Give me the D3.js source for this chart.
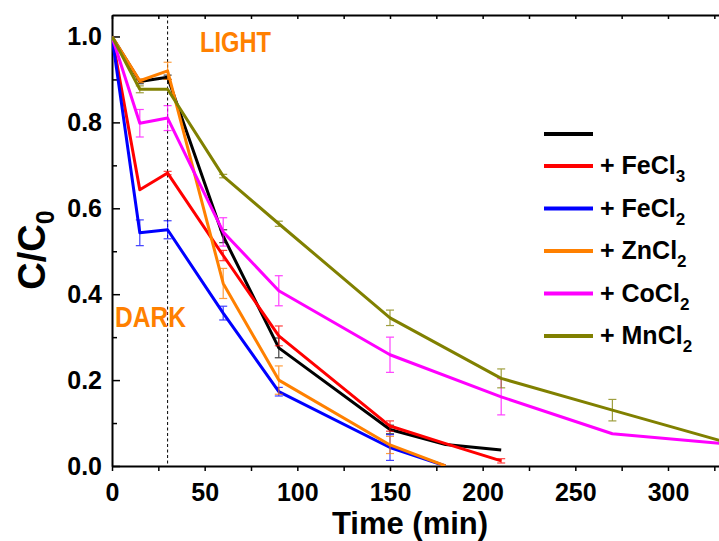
<!DOCTYPE html>
<html>
<head>
<meta charset="utf-8">
<script src="https://cdn.jsdelivr.net/npm/d3@7"></script>
<style>
  body { margin: 0; background: #fff; }
  text { font-family: "Liberation Sans", Arial, sans-serif; font-weight: bold; }
</style>
</head>
<body>
<div class="chart"></div>
<script>
// sampling times (min)
const timesLong = [0, 15, 30, 60, 90, 150, 180, 210];
const timesShort = [0, 15, 30, 60, 90, 150, 180];
const timesExt = [0, 15, 30, 60, 90, 150, 210, 270, 330];

// C/C0 values and error bars
const control = [1.0, 0.895, 0.905, 0.535, 0.275, 0.085, 0.05, 0.037];
const controlErr = [0, 0.005, 0.005, 0.015, 0.023, 0.01, 0, 0];
const fecl3 = [1.0, 0.643, 0.682, 0.49, 0.303, 0.093, 0.052, 0.012];
const fecl3Err = [0, 0, 0.004, 0.012, 0.023, 0.012, 0, 0.005];
const fecl2 = [1.0, 0.543, 0.55, 0.356, 0.173, 0.043, 0.0];
const fecl2Err = [0, 0.03, 0.021, 0.016, 0.01, 0.03, 0];
const zncl2 = [1.0, 0.897, 0.92, 0.425, 0.2, 0.049, 0.0];
const zncl2Err = [0, 0.004, 0.02, 0.035, 0.033, 0.02, 0];
const cocl2 = [1.0, 0.798, 0.81, 0.545, 0.408, 0.259, 0.161, 0.075, 0.052];
const cocl2Err = [0, 0.032, 0.029, 0.033, 0.035, 0.041, 0.042, 0, 0];
const mncl2 = [1.0, 0.877, 0.877, 0.675, 0.564, 0.345, 0.204, 0.13, 0.057];
const mncl2Err = [0, 0.008, 0, 0.004, 0.006, 0.018, 0.022, 0.025, 0];

const labels = ['', '+ FeCl', '+ FeCl', '+ ZnCl', '+ CoCl', '+ MnCl'];
const subs = ['', '3', '2', '2', '2', '2'];
const colors = ['#000000', '#ff0000', '#0000ff', '#ff8000', '#ff00ff', '#808000'];

const xTicks = [0, 50, 100, 150, 200, 250, 300];
const yTicks = [0.0, 0.2, 0.4, 0.6, 0.8, 1.0];
const darkEnd = 30;

const series = [
  {t: timesLong, v: control, e: controlErr},
  {t: timesLong, v: fecl3, e: fecl3Err},
  {t: timesShort, v: fecl2, e: fecl2Err},
  {t: timesShort, v: zncl2, e: zncl2Err},
  {t: timesExt, v: cocl2, e: cocl2Err},
  {t: timesExt, v: mncl2, e: mncl2Err}
].map((s, i) => ({
  color: colors[i],
  label: labels[i],
  sub: subs[i],
  points: s.t.map((t, j) => ({t, v: s.v[j], e: s.e[j]}))
}));

const FULL_WIDTH = 719;
const FULL_HEIGHT = 541;
const margin = { top: 15, left: 112, bottom: 75 };
const height = FULL_HEIGHT - margin.top - margin.bottom;

const svg = d3.select('.chart')
  .append('svg')
    .attr('width', FULL_WIDTH)
    .attr('height', FULL_HEIGHT);

const xScale = d3.scaleLinear()
  .domain([0, 330])
  .range([margin.left, margin.left + 330 * 1.8533]);

const yScale = d3.scaleLinear()
  .domain([0, 1.05])
  .range([margin.top + height, margin.top]);

const minorX = d3.range(0, 351, 25);
const minorY = d3.range(0, 1.01, 0.1);

svg.append('defs').append('clipPath')
    .attr('id', 'plot-clip')
  .append('rect')
    .attr('x', margin.left)
    .attr('y', 0)
    .attr('width', FULL_WIDTH - margin.left)
    .attr('height', margin.top + height);

// dark / light boundary
svg.append('line')
    .attr('x1', xScale(darkEnd))
    .attr('x2', xScale(darkEnd))
    .attr('y1', yScale(1.05))
    .attr('y2', yScale(0))
    .attr('stroke', '#000')
    .attr('stroke-width', 1)
    .attr('stroke-dasharray', '3,2.5');

// axes
svg.append('g')
    .attr('transform', `translate(0, ${yScale(0)})`)
  .call(d3.axisBottom(xScale).tickValues(minorX).tickSize(5).tickSizeOuter(0)
    .tickPadding(12).tickFormat(d => xTicks.includes(d) ? d : ''));

svg.append('g')
    .attr('transform', `translate(0, ${margin.top})`)
  .call(d3.axisTop(xScale).tickValues(minorX).tickSize(-4).tickSizeOuter(0).tickFormat(''));

svg.append('g')
    .attr('transform', `translate(${margin.left}, 0)`)
  .call(d3.axisLeft(yScale).tickValues(yTicks).tickSize(-8).tickSizeOuter(0)
    .tickPadding(10).tickFormat(d3.format('.1f')));

svg.append('g')
    .attr('transform', `translate(${margin.left}, 0)`)
  .call(d3.axisLeft(yScale).tickValues(minorY.filter((d, i) => i % 2)).tickSize(-5)
    .tickSizeOuter(0).tickFormat(''))
  .select('.domain').remove();

svg.selectAll('.domain').attr('stroke-width', 2);
svg.selectAll('.tick line').attr('stroke-width', 1.5);
svg.selectAll('.tick text')
    .attr('font-size', 25)
    .attr('font-family', '"Liberation Sans", Arial, sans-serif')
    .attr('font-weight', 'bold')
    .attr('fill', '#000');

// series
const line = d3.line()
  .x(d => xScale(d.t))
  .y(d => yScale(d.v));

const plot = svg.append('g').attr('clip-path', 'url(#plot-clip)');

series.forEach(s => {
  const bars = plot.append('g')
      .attr('stroke', s.color)
      .attr('stroke-width', 1.2)
      .attr('opacity', 0.75)
    .selectAll('g')
    .data(s.points.filter(d => d.e > 0))
    .enter().append('g');
  bars.append('line')
      .attr('x1', d => xScale(d.t)).attr('x2', d => xScale(d.t))
      .attr('y1', d => yScale(d.v - d.e)).attr('y2', d => yScale(d.v + d.e));
  [-1, 1].forEach(k => {
    bars.append('line')
        .attr('x1', d => xScale(d.t) - 4).attr('x2', d => xScale(d.t) + 4)
        .attr('y1', d => yScale(d.v + k * d.e)).attr('y2', d => yScale(d.v + k * d.e));
  });
  plot.append('path')
      .datum(s.points)
      .attr('fill', 'none')
      .attr('stroke', s.color)
      .attr('stroke-width', 3)
      .attr('stroke-linejoin', 'round')
      .attr('d', line);
});

// phase labels
svg.append('text')
    .attr('x', 200).attr('y', 52)
    .attr('font-size', 29)
    .attr('textLength', 71).attr('lengthAdjust', 'spacingAndGlyphs')
    .attr('fill', '#ff8000')
    .text('LIGHT');
svg.append('text')
    .attr('x', 115).attr('y', 327)
    .attr('font-size', 29)
    .attr('textLength', 71).attr('lengthAdjust', 'spacingAndGlyphs')
    .attr('fill', '#ff8000')
    .text('DARK');

// legend
const legendY = i => i === 0 ? 134 : 166 + (i - 1) * 42.5;
const legend = svg.append('g');
series.forEach((s, i) => {
  legend.append('line')
      .attr('x1', 544).attr('x2', 593)
      .attr('y1', legendY(i)).attr('y2', legendY(i))
      .attr('stroke', s.color)
      .attr('stroke-width', 4);
  if (s.label) {
    const t = legend.append('text')
        .attr('x', 600).attr('y', legendY(i) + 8)
        .attr('font-size', 25)
        .text(s.label);
    t.append('tspan')
        .attr('font-size', 17)
        .attr('dy', 8)
        .text(s.sub);
  }
});

// axis titles
svg.append('text')
    .attr('x', 410).attr('y', 534)
    .attr('text-anchor', 'middle')
    .attr('font-size', 31)
    .text('Time (min)');

const yTitle = svg.append('text')
    .attr('transform', 'translate(45, 250) rotate(-90)')
    .attr('text-anchor', 'middle')
    .attr('font-size', 38)
    .text('C/C');
yTitle.append('tspan')
    .attr('font-size', 25)
    .attr('dy', 9)
    .text('0');
</script>
</body>
</html>
